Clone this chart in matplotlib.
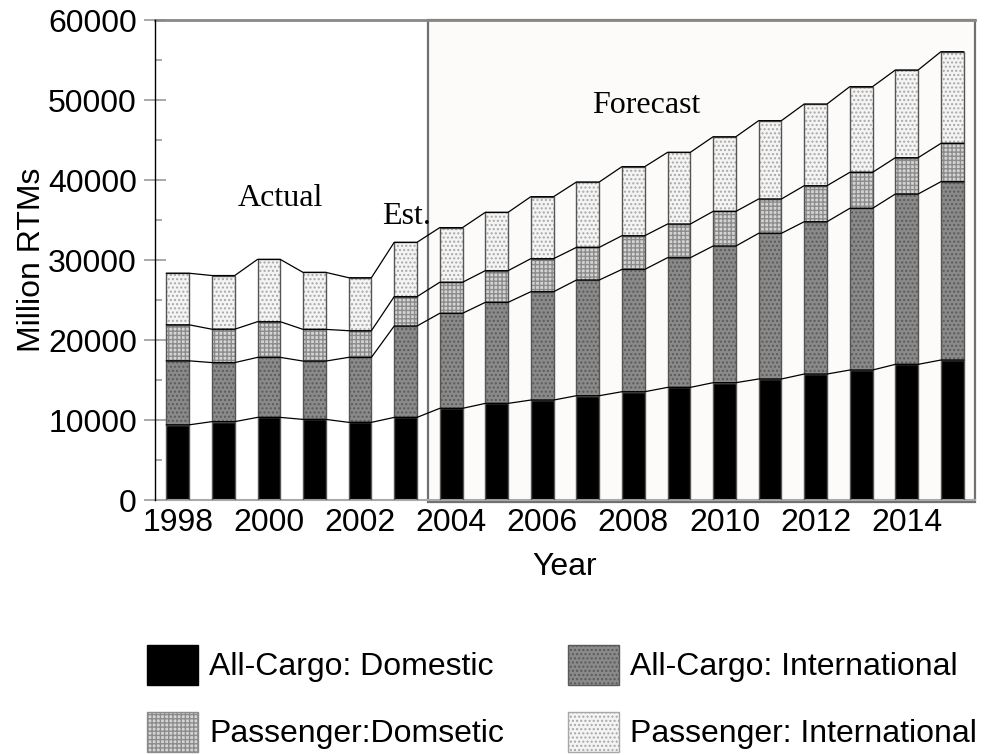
import numpy as np
import matplotlib
matplotlib.use("Agg")
import matplotlib.pyplot as plt
from matplotlib.patches import Rectangle, Patch
from matplotlib.ticker import MultipleLocator

# values (million RTMs)
years = np.arange(1998, 2016)
cargo_domestic = [9400, 9800, 10330, 10080, 9710, 10330, 11460, 12080, 12500,
                  13040, 13540, 14080, 14670, 15130, 15750, 16250, 16960, 17500]
cargo_intl = [8000, 7380, 7500, 7290, 8125, 11420, 11880, 12630, 13540,
              14460, 15290, 16210, 17080, 18210, 19040, 20210, 21290, 22290]
pass_domestic = [4500, 4170, 4460, 3960, 3330, 3670, 3880, 3960, 4130,
                 4080, 4210, 4210, 4330, 4290, 4500, 4500, 4540, 4790]
pass_intl = [6450, 6710, 7790, 7125, 6625, 6790, 6830, 7290, 7750,
             8170, 8630, 8960, 9330, 9790, 10210, 10710, 10960, 11460]

series = [cargo_domestic, cargo_intl, pass_domestic, pass_intl]
labels = ["All-Cargo: Domestic", "All-Cargo: International",
          "Passenger:Domsetic", "Passenger: International"]
faces = ["#000000", "#8a8a8a", "#d4d4d4", "#f4f4f4"]
hatches = [None, "....", "++++", "...."]
hatch_cols = ["#000000", "#5a5a5a", "#8c8c8c", "#a8a8a8"]

bar_w = 0.5
serif = "Liberation Serif"
sans = "Liberation Sans"

fig = plt.figure(figsize=(9.92, 7.55), dpi=100)
ax = fig.add_axes([0.15625, 0.3377, 0.8267, 0.6358])

# forecast region
ax.add_patch(Rectangle((2003.5, -250), 12, 60250, facecolor="#fcfbf9",
                       edgecolor="#707070", lw=1.6, zorder=0.5, clip_on=False))

bottom = np.zeros(len(years))
for vals, fc, h, hc in zip(series, faces, hatches, hatch_cols):
    vals = np.array(vals, dtype=float)
    ax.bar(years, vals, bar_w, bottom=bottom, color=fc, hatch=h,
           edgecolor=hc, linewidth=0, zorder=2)
    ax.bar(years, vals, bar_w, bottom=bottom, fill=False,
           edgecolor="#555555", linewidth=1.0, zorder=3)
    bottom = bottom + vals
    # segment tops joined from bar to bar
    xs = np.column_stack([years - bar_w / 2, years + bar_w / 2]).ravel()
    ys = np.repeat(bottom, 2)
    ax.plot(xs, ys, color="black", lw=0.9, zorder=4)

ax.set_xlim(1997.5, 2015.5)
ax.set_ylim(0, 60000)
ax.set_xticks(np.arange(1998, 2015, 2))
ax.yaxis.set_major_locator(MultipleLocator(10000))
ax.yaxis.set_minor_locator(MultipleLocator(5000))
ax.tick_params(axis="x", length=0, pad=6, labelsize=23)
ax.tick_params(axis="y", which="major", direction="inout", length=16,
               width=1.2, color="#999999", pad=5, labelsize=23)
ax.tick_params(axis="y", which="minor", direction="in", length=5,
               width=1.2, color="#999999")
for t in ax.get_xticklabels() + ax.get_yticklabels():
    t.set_fontfamily(sans)

ax.spines["right"].set_visible(False)
ax.spines["left"].set_color("black")
ax.spines["left"].set_linewidth(1.0)
ax.spines["top"].set_color("#888888")
ax.spines["top"].set_linewidth(2)
ax.spines["bottom"].set_color("#aaaaaa")
ax.spines["bottom"].set_linewidth(1.5)
ax.spines["left"].set_zorder(5)

ax.set_xlabel("Year", fontsize=23, family=sans, labelpad=10)
ax.set_ylabel("Million RTMs", fontsize=23, family=sans, labelpad=1)

ax.text(2000.26, 37750, "Actual", family=serif, fontsize=23,
        ha="center", va="center", zorder=6)
ax.text(2003.03, 35500, "Est.", family=serif, fontsize=23,
        ha="center", va="center", zorder=6)
ax.text(2008.29, 49375, "Forecast", family=serif, fontsize=23,
        ha="center", va="center", zorder=6)

handles = []
for fc, h, hc in zip(faces, hatches, hatch_cols):
    handles.append(Patch(facecolor=fc, hatch=h, edgecolor=hc, linewidth=1.0))
order = [0, 2, 1, 3]
fig.legend([handles[i] for i in order], [labels[i] for i in order],
           loc="upper left", bbox_to_anchor=(0.148, 0.146), ncol=2,
           frameon=False, prop={"family": sans, "size": 23},
           handlelength=1.6, handleheight=1.55, handletextpad=0.35,
           columnspacing=2.0, labelspacing=0.85, borderpad=0, borderaxespad=0)

fig.savefig("out.png", dpi=100)
